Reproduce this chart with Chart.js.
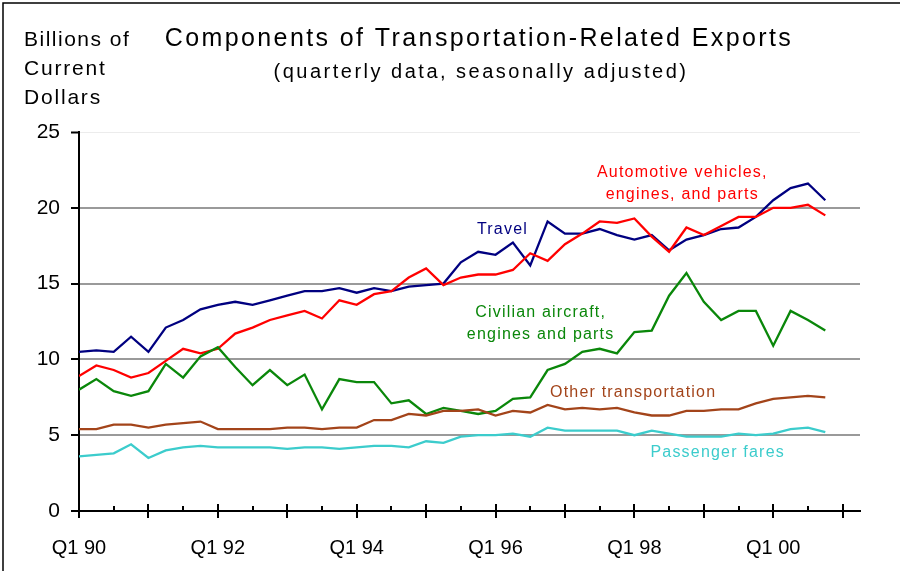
<!DOCTYPE html>
<html>
<head>
<meta charset="utf-8">
<title>Components of Transportation-Related Exports</title>
<script src="https://cdn.jsdelivr.net/npm/chart.js@4/dist/chart.umd.min.js"></script>
<style>
  html, body { margin: 0; padding: 0; background: #fff; }
  #wrap { width: 900px; height: 571px; position: relative; }
</style>
</head>
<body>
<div id="wrap"><canvas id="chart" width="900" height="571"></canvas></div>
<script>
// Quarterly values, Q1 1990 through Q4 2000 (index 0 = Q1 90), billions of current dollars
const travel = [10.5, 10.6, 10.5, 11.5, 10.5, 12.1, 12.6, 13.3, 13.6, 13.8, 13.6, 13.9,
                14.2, 14.5, 14.5, 14.7, 14.4, 14.7, 14.5, 14.8, 14.9, 15.0, 16.4, 17.1,
                16.9, 17.7, 16.2, 19.1, 18.3, 18.3, 18.6, 18.2, 17.9, 18.2, 17.2, 17.9,
                18.2, 18.6, 18.7, 19.4, 20.5, 21.3, 21.6, 20.5];
const automotive = [8.9, 9.6, 9.3, 8.8, 9.1, 9.9, 10.7, 10.4, 10.7, 11.7, 12.1, 12.6,
                    12.9, 13.2, 12.7, 13.9, 13.6, 14.3, 14.5, 15.4, 16.0, 14.9, 15.4, 15.6,
                    15.6, 15.9, 17.0, 16.5, 17.6, 18.3, 19.1, 19.0, 19.3, 18.1, 17.1, 18.7,
                    18.2, 18.8, 19.4, 19.4, 20.0, 20.0, 20.2, 19.5];
const aircraft = [8.0, 8.7, 7.9, 7.6, 7.9, 9.7, 8.8, 10.2, 10.8, 9.5, 8.3, 9.3,
                  8.3, 9.0, 6.7, 8.7, 8.5, 8.5, 7.1, 7.3, 6.4, 6.8, 6.6, 6.4,
                  6.6, 7.4, 7.5, 9.3, 9.7, 10.5, 10.7, 10.4, 11.8, 11.9, 14.2, 15.7,
                  13.8, 12.6, 13.2, 13.2, 10.9, 13.2, 12.6, 11.9];
const otherTransport = [5.4, 5.4, 5.7, 5.7, 5.5, 5.7, 5.8, 5.9, 5.4, 5.4, 5.4, 5.4,
                        5.5, 5.5, 5.4, 5.5, 5.5, 6.0, 6.0, 6.4, 6.3, 6.6, 6.6, 6.7,
                        6.3, 6.6, 6.5, 7.0, 6.7, 6.8, 6.7, 6.8, 6.5, 6.3, 6.3, 6.6,
                        6.6, 6.7, 6.7, 7.1, 7.4, 7.5, 7.6, 7.5];
const passengerFares = [3.6, 3.7, 3.8, 4.4, 3.5, 4.0, 4.2, 4.3, 4.2, 4.2, 4.2, 4.2,
                        4.1, 4.2, 4.2, 4.1, 4.2, 4.3, 4.3, 4.2, 4.6, 4.5, 4.9, 5.0,
                        5.0, 5.1, 4.9, 5.5, 5.3, 5.3, 5.3, 5.3, 5.0, 5.3, 5.1, 4.9,
                        4.9, 4.9, 5.1, 5.0, 5.1, 5.4, 5.5, 5.2];

const xTickLabels = ['Q1 90', 'Q1 92', 'Q1 94', 'Q1 96', 'Q1 98', 'Q1 00'];
const yTicks = [0, 5, 10, 15, 20, 25];

const FONT = '"Liberation Sans", Arial, sans-serif';
const COLORS = {
  travel: '#000080',
  automotive: '#ff0000',
  aircraft: '#0a870a',
  other: '#a3441a',
  fares: '#3ccccc'
};

// series labels placed next to the lines (x in quarters, y in billions)
const lineLabels = [
  { lines: ['Automotive vehicles,', 'engines, and parts'], x: 34.76, y: 22.3, color: COLORS.automotive },
  { lines: ['Travel'], x: 24.4, y: 18.55, color: COLORS.travel },
  { lines: ['Civilian aircraft,', 'engines and parts'], x: 26.6, y: 13.06, color: COLORS.aircraft },
  { lines: ['Other transportation'], x: 31.93, y: 7.78, color: COLORS.other },
  { lines: ['Passenger fares'], x: 36.8, y: 3.83, color: COLORS.fares }
];

function toPoints(values) {
  return values.map((v, i) => ({ x: i, y: v }));
}

function series(label, values, color) {
  return {
    label: label,
    data: toPoints(values),
    borderColor: color,
    backgroundColor: color,
    borderWidth: 2.3,
    pointRadius: 0,
    tension: 0,
    fill: false
  };
}

function spacedText(ctx, text, x, y, spacing) {
  ctx.letterSpacing = spacing + 'px';
  ctx.fillText(text, x, y);
  ctx.letterSpacing = '0px';
}

// frame, titles, axis ticks and line labels
const decorations = {
  id: 'decorations',
  beforeDraw(chart) {
    const ctx = chart.ctx;
    ctx.save();
    ctx.fillStyle = '#fff';
    ctx.fillRect(0, 0, chart.width, chart.height);
    ctx.restore();
  },
  afterDraw(chart) {
    const ctx = chart.ctx;
    const xs = chart.scales.x;
    const ys = chart.scales.y;
    const area = chart.chartArea;
    ctx.save();

    // outer frame (left and top edges)
    ctx.strokeStyle = '#000';
    ctx.lineWidth = 1.5;
    ctx.beginPath();
    ctx.moveTo(3, chart.height);
    ctx.lineTo(3, 3);
    ctx.lineTo(chart.width, 3);
    ctx.stroke();

    // x axis ticks: tall at Q1, short at Q3
    ctx.lineWidth = 2;
    for (let q = 0; q <= 44; q += 2) {
      const px = Math.round(xs.getPixelForValue(q));
      ctx.beginPath();
      if (q % 4 === 0) {
        ctx.moveTo(px, area.bottom - 7);
        ctx.lineTo(px, area.bottom + 7);
      } else {
        ctx.moveTo(px, area.bottom - 5);
        ctx.lineTo(px, area.bottom);
      }
      ctx.stroke();
    }

    // titles
    ctx.fillStyle = '#000';
    ctx.textBaseline = 'middle';
    ctx.textAlign = 'center';
    ctx.font = '25px ' + FONT;
    spacedText(ctx, 'Components of Transportation-Related Exports', 479, 39, 2.4);
    ctx.font = '20px ' + FONT;
    spacedText(ctx, '(quarterly data, seasonally adjusted)', 481, 72, 2.5);

    // y axis unit
    ctx.textAlign = 'left';
    ctx.font = '21px ' + FONT;
    spacedText(ctx, 'Billions of', 24, 40, 1.5);
    spacedText(ctx, 'Current', 24, 69, 1.8);
    spacedText(ctx, 'Dollars', 24, 98, 1.8);

    // labels beside each line
    ctx.textAlign = 'center';
    ctx.font = '16px ' + FONT;
    lineLabels.forEach(lab => {
      const cx = xs.getPixelForValue(lab.x);
      const cy = ys.getPixelForValue(lab.y);
      ctx.fillStyle = lab.color;
      lab.lines.forEach((t, k) => spacedText(ctx, t, cx, cy + k * 22, 1.2));
    });
    ctx.restore();
  }
};

new Chart(document.getElementById('chart').getContext('2d'), {
  type: 'line',
  data: {
    datasets: [
      series('Passenger fares', passengerFares, COLORS.fares),
      series('Other transportation', otherTransport, COLORS.other),
      series('Civilian aircraft, engines and parts', aircraft, COLORS.aircraft),
      series('Automotive vehicles, engines, and parts', automotive, COLORS.automotive),
      series('Travel', travel, COLORS.travel)
    ]
  },
  options: {
    responsive: false,
    animation: false,
    devicePixelRatio: 1,
    layout: { padding: { top: 132, right: 40, left: 0, bottom: 0 } },
    plugins: {
      legend: { display: false },
      tooltip: { enabled: false },
      title: { display: false }
    },
    scales: {
      x: {
        type: 'linear',
        min: 0,
        max: 45,
        afterBuildTicks: s => { s.ticks = xTickLabels.map((_, i) => ({ value: i * 8 })); },
        afterFit: s => { s.height = 60; },
        grid: { drawOnChartArea: false, drawTicks: false },
        border: { color: '#000', width: 2 },
        ticks: {
          autoSkip: false,
          maxRotation: 0,
          padding: 25,
          color: '#000',
          font: { family: FONT, size: 20 },
          callback: v => xTickLabels[v / 8]
        }
      },
      y: {
        min: 0,
        max: 25,
        afterBuildTicks: s => { s.ticks = yTicks.map(v => ({ value: v })); },
        afterFit: s => { s.width = 79; },
        grid: {
          color: c => c.tick.value === 0 ? 'rgba(0,0,0,0)' : (c.tick.value === 25 ? '#ececec' : '#9a9a9a'),
          lineWidth: c => c.tick.value === 25 ? 1 : 2,
          drawTicks: true,
          tickLength: 8,
          tickColor: '#000',
          tickWidth: 2
        },
        border: { color: '#000', width: 2 },
        ticks: {
          padding: 11,
          color: '#000',
          font: { family: FONT, size: 21 }
        }
      }
    }
  },
  plugins: [decorations]
});
</script>
</body>
</html>
